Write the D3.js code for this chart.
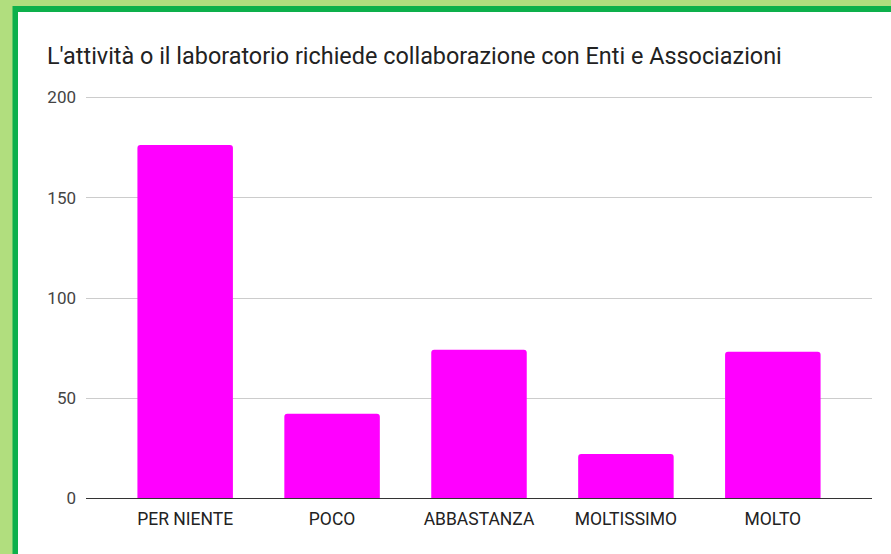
<!DOCTYPE html>
<html><head><meta charset="utf-8">
<script src="https://cdn.jsdelivr.net/npm/d3@7"></script>
<style>
html,body{margin:0;padding:0;background:#b1de7e;overflow:hidden;}
svg{display:block;}
</style></head>
<body>
<svg id="c" width="891" height="554"></svg>
<script>
const title = "L'attività o il laboratorio richiede collaborazione con Enti e Associazioni";
const categories = ["PER NIENTE","POCO","ABBASTANZA","MOLTISSIMO","MOLTO"];
const values = [176, 42, 74, 22, 73];
const yTicks = [0, 50, 100, 150, 200];

const svg = d3.select("#c");
// frame
svg.append("rect").attr("x",0).attr("y",0).attr("width",891).attr("height",554).attr("fill","#b1de7e");
svg.append("rect").attr("x",12.5).attr("y",6).attr("width",900).attr("height",600).attr("fill","#0db04b");
svg.append("rect").attr("x",18).attr("y",12).attr("width",900).attr("height",600).attr("fill","#ffffff");

svg.append("text").attr("x",47).attr("y",64)
  .attr("font-family","Roboto").attr("font-size",23.4).attr("fill","#222")
  .text(title);

const x = d3.scaleBand().domain(categories).range([86,872]).paddingInner(0.35).paddingOuter(0.35);
const y = d3.scaleLinear().domain([0,200]).range([498,97]);

// grid
const g = svg.append("g");
g.selectAll("line.grid").data(yTicks.filter(d=>d>0)).join("line")
  .attr("x1",86).attr("x2",872)
  .attr("y1",d=>Math.round(y(d))+0.5).attr("y2",d=>Math.round(y(d))+0.5)
  .attr("stroke","#cccccc").attr("stroke-width",1);

// y axis labels
const yAxis = d3.axisLeft(y).tickValues(yTicks).tickSize(0).tickPadding(0);
const ya = svg.append("g").attr("transform","translate(76,0)").call(yAxis);
ya.select(".domain").remove();
ya.selectAll("text").attr("font-family","Roboto").attr("font-size",17).attr("fill","#444").attr("dy","0.35em");

// bars with rounded top corners
const r = 3;
svg.append("g").selectAll("path").data(values).join("path")
  .attr("fill","#ff00ff")
  .attr("d",(d,i)=>{
    const x0 = x(categories[i]), w = x.bandwidth(), y0 = y(d), y1 = y(0);
    return `M${x0},${y1}V${y0+r}Q${x0},${y0} ${x0+r},${y0}H${x0+w-r}Q${x0+w},${y0} ${x0+w},${y0+r}V${y1}Z`;
  });

// baseline
svg.append("line").attr("x1",86).attr("x2",872).attr("y1",498.5).attr("y2",498.5)
  .attr("stroke","#333").attr("stroke-width",1);

// x axis labels
const xAxis = d3.axisBottom(x).tickSize(0).tickPadding(0);
const xa = svg.append("g").attr("transform","translate(0,525)").call(xAxis);
xa.select(".domain").remove();
xa.selectAll("text").attr("font-family","Roboto").attr("font-size",17.5).attr("fill","#222").attr("dy","0");
</script>
</body></html>
